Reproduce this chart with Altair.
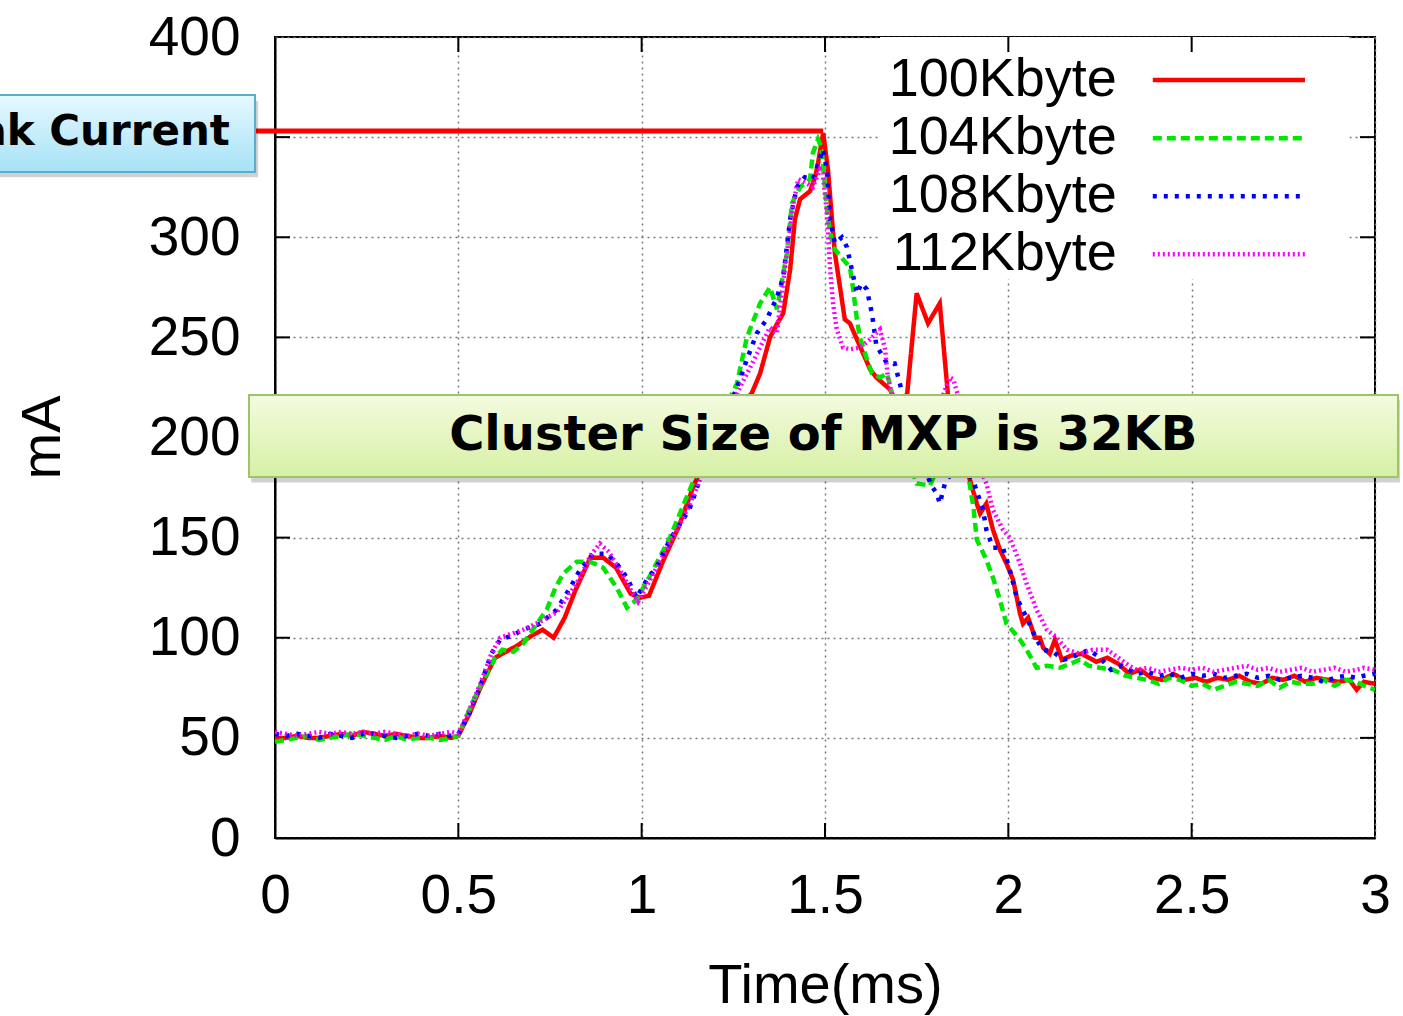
import altair as alt
import pandas as pd

# ---------------- data ----------------
series_names = ["100Kbyte", "104Kbyte", "108Kbyte", "112Kbyte"]
series_colors = ["#ff0000", "#00e600", "#0000ff", "#ff00ff"]
series_dash = [[1, 0], [9, 5], [4, 7], [2, 3]]

red_x = [0.00, 0.03, 0.06, 0.09, 0.12, 0.15, 0.18, 0.21, 0.24, 0.27, 0.30, 0.33, 0.36, 0.39, 0.42, 0.45, 0.48, 0.50,
         0.53, 0.56, 0.60, 0.63, 0.66, 0.70, 0.73, 0.76, 0.79, 0.82, 0.86, 0.895, 0.93, 0.97, 0.995, 1.02, 1.06, 1.10,
         1.14, 1.20, 1.26, 1.30, 1.323, 1.35, 1.37, 1.386, 1.405, 1.418, 1.432, 1.459, 1.473, 1.481, 1.495, 1.508,
         1.519, 1.527, 1.541, 1.554, 1.568, 1.587, 1.604, 1.623, 1.64, 1.677, 1.718, 1.75, 1.781, 1.813, 1.835, 1.865,
         1.895, 1.914, 1.923, 1.94, 1.958, 1.977, 1.995, 2.013, 2.032, 2.04, 2.054, 2.073, 2.086, 2.095, 2.113, 2.127,
         2.146, 2.17, 2.20, 2.24, 2.27, 2.30, 2.33, 2.36, 2.39, 2.42, 2.45, 2.48, 2.51, 2.54, 2.57, 2.60, 2.63, 2.66,
         2.69, 2.72, 2.75, 2.78, 2.81, 2.84, 2.87, 2.90, 2.93, 2.95, 2.97, 3.00]
red_y = [50, 50, 51, 50, 50, 51, 52, 51, 53, 52, 51, 52, 51, 50, 50, 51, 50, 51,
         62, 75, 90, 93, 96, 101, 104, 100, 110, 124, 140, 140, 135, 122, 120, 121, 139, 155,
         175, 200, 215, 222, 232, 250, 257, 262, 284, 309, 319, 323, 330, 337, 352, 334,
         309, 292, 275, 259, 257, 249, 242, 234, 230, 224, 210, 272, 257, 267, 222, 200,
         179, 167, 162, 167, 154, 144, 137, 129, 112, 107, 110, 100, 100, 95, 92, 99,
         89, 91, 92, 88, 90, 87, 82, 84, 80, 79, 82, 79, 80, 78, 80, 79, 81, 78,
         77, 80, 79, 81, 78, 80, 79, 78, 79, 74, 78, 77]

green_x = [0.00, 0.03, 0.06, 0.09, 0.12, 0.15, 0.18, 0.21, 0.24, 0.27, 0.30, 0.33, 0.36, 0.39, 0.42, 0.45, 0.48, 0.50,
           0.53, 0.56, 0.60, 0.62, 0.65, 0.677, 0.714, 0.741, 0.765, 0.786, 0.823, 0.859, 0.895, 0.932, 0.96, 0.986,
           1.02, 1.077, 1.12, 1.18, 1.22, 1.26, 1.287, 1.323, 1.35, 1.369, 1.396, 1.41, 1.432, 1.459, 1.467, 1.481,
           1.49, 1.50, 1.508, 1.522, 1.549, 1.568, 1.576, 1.587, 1.595, 1.609, 1.628, 1.65, 1.669, 1.68, 1.71, 1.75,
           1.786, 1.82, 1.86, 1.89, 1.905, 1.914, 1.94, 1.958, 1.977, 1.995, 2.032, 2.05, 2.077, 2.105, 2.14, 2.17,
           2.195, 2.22, 2.25, 2.285, 2.32, 2.35, 2.377, 2.41, 2.44, 2.468, 2.50, 2.53, 2.56, 2.59, 2.62, 2.65, 2.68,
           2.71, 2.74, 2.77, 2.80, 2.83, 2.86, 2.89, 2.92, 2.95, 2.97, 3.00]
green_y = [48, 49, 50, 51, 49, 50, 51, 52, 51, 50, 49, 51, 49, 50, 50, 49, 50, 51,
           64, 76, 90, 94, 93, 97, 107, 114, 125, 132, 138, 138, 135, 125, 115, 119,
           130, 150, 169, 195, 212, 227, 250, 267, 275, 264, 292, 317, 325, 329, 342, 349,
           345, 325, 309, 295, 289, 285, 275, 259, 250, 242, 232, 230, 232, 224, 200, 177,
           176, 190, 195, 182, 165, 149, 139, 130, 119, 107, 99, 94, 85, 86, 85, 87,
           89, 86, 85, 84, 81, 80, 79, 77, 80, 79, 76, 77, 74, 76, 78, 77, 76,
           79, 75, 78, 77, 77, 79, 76, 79, 78, 76, 74]

blue_x = [0.00, 0.03, 0.06, 0.09, 0.12, 0.15, 0.18, 0.21, 0.24, 0.27, 0.30, 0.33, 0.36, 0.39, 0.42, 0.45, 0.48, 0.50,
          0.53, 0.56, 0.59, 0.614, 0.645, 0.677, 0.723, 0.768, 0.805, 0.832, 0.868, 0.905, 0.932, 0.96, 0.986, 1.014,
          1.04, 1.077, 1.13, 1.19, 1.23, 1.26, 1.287, 1.314, 1.341, 1.369, 1.386, 1.405, 1.423, 1.445, 1.467, 1.486,
          1.494, 1.505, 1.514, 1.527, 1.546, 1.56, 1.573, 1.587, 1.60, 1.614, 1.628, 1.64, 1.669, 1.69, 1.704, 1.75,
          1.79, 1.805, 1.813, 1.827, 1.87, 1.905, 1.931, 1.94, 1.958, 1.985, 2.004, 2.023, 2.05, 2.077, 2.095, 2.122,
          2.15, 2.17, 2.195, 2.22, 2.25, 2.28, 2.31, 2.35, 2.38, 2.41, 2.44, 2.47, 2.50, 2.53, 2.56, 2.59, 2.62, 2.65,
          2.68, 2.71, 2.74, 2.77, 2.80, 2.83, 2.86, 2.89, 2.92, 2.95, 2.97, 3.00]
blue_y = [52, 51, 52, 51, 50, 52, 51, 50, 52, 52, 51, 50, 51, 52, 51, 52, 51, 52,
          62, 76, 92, 99, 101, 104, 107, 114, 125, 134, 142, 142, 137, 130, 120, 129,
          135, 149, 164, 195, 212, 225, 239, 252, 259, 270, 280, 309, 325, 330, 329, 339,
          344, 334, 309, 297, 300, 295, 284, 272, 277, 274, 262, 246, 237, 237, 227, 195,
          176, 172, 167, 177, 190, 178, 164, 154, 145, 145, 134, 120, 110, 99, 94, 93,
          89, 90, 92, 94, 90, 84, 86, 82, 83, 81, 82, 80, 82, 81, 82, 80, 81, 82,
          80, 81, 79, 80, 81, 80, 78, 80, 81, 80, 81, 82]

magenta_x = [0.00, 0.03, 0.06, 0.09, 0.12, 0.15, 0.18, 0.21, 0.24, 0.27, 0.30, 0.33, 0.36, 0.39, 0.42, 0.45, 0.48, 0.50,
             0.53, 0.56, 0.59, 0.614, 0.645, 0.677, 0.723, 0.77, 0.80, 0.832, 0.86, 0.886, 0.91, 0.94, 0.97, 0.99,
             1.02, 1.05, 1.09, 1.13, 1.19, 1.23, 1.268, 1.296, 1.323, 1.35, 1.369, 1.377, 1.396, 1.414, 1.427, 1.45,
             1.467, 1.486, 1.494, 1.505, 1.514, 1.522, 1.532, 1.549, 1.568, 1.595, 1.623, 1.65, 1.664, 1.672, 1.70,
             1.74, 1.78, 1.82, 1.84, 1.85, 1.88, 1.91, 1.94, 1.958, 1.985, 2.004, 2.032, 2.05, 2.077, 2.105, 2.132,
             2.16, 2.195, 2.23, 2.27, 2.30, 2.33, 2.35, 2.38, 2.41, 2.44, 2.47, 2.50, 2.53, 2.56, 2.59, 2.62, 2.65,
             2.68, 2.71, 2.74, 2.77, 2.80, 2.83, 2.86, 2.89, 2.92, 2.95, 2.97, 3.00]
magenta_y = [53, 52, 51, 52, 53, 52, 53, 52, 53, 52, 53, 52, 51, 52, 51, 52, 53, 52,
             64, 77, 92, 100, 102, 104, 108, 113, 121, 130, 141, 147, 143, 134, 124, 118,
             128, 138, 152, 166, 193, 210, 225, 235, 245, 255, 252, 265, 292, 317, 329, 327,
             325, 334, 332, 312, 284, 267, 254, 245, 244, 245, 249, 254, 244, 229, 210,
             200, 205, 220, 230, 229, 210, 190, 177, 164, 154, 150, 137, 127, 114, 104, 100,
             94, 92, 94, 94, 90, 86, 84, 85, 83, 84, 85, 84, 85, 83, 84, 85, 86,
             84, 85, 83, 84, 85, 83, 84, 85, 83, 84, 85, 84]

x_ticks = [0, 0.5, 1, 1.5, 2, 2.5, 3]
y_ticks = [0, 50, 100, 150, 200, 250, 300, 350, 400]

peak_label = "Peak Current"
peak_value = 353
cluster_label = "Cluster Size of MXP is 32KB"

# ---------------- build tables ----------------
rows = []
for name, xs, ys in zip(series_names,
                        [red_x, green_x, blue_x, magenta_x],
                        [red_y, green_y, blue_y, magenta_y]):
    for xv, yv in zip(xs, ys):
        rows.append({"series": name, "x": xv, "y": yv})
df = pd.DataFrame(rows)

FONT = "Liberation Sans"
ANNO_FONT = "DejaVu Sans"

xscale = alt.Scale(domain=[0, 3], nice=False, zero=False)
yscale = alt.Scale(domain=[0, 400], nice=False, zero=False)
xaxis = alt.Axis(values=x_ticks, title="Time(ms)", labelFontSize=55, titleFontSize=56, labelFont=FONT,
                 titleFont=FONT, titleFontWeight="normal", labelColor="black", titleColor="black",
                 ticks=False, labelPadding=31, grid=True, gridDash=[2, 4], gridColor="#777777",
                 gridWidth=1.5, domainColor="black", domainWidth=2, labelExpr="datum.value + ''",
                 titleY=147, titleBaseline="middle", labelFlush=False)
# the 350 label sits underneath the "Peak Current" call-out box
yaxis = alt.Axis(values=y_ticks, title="mA", labelFontSize=55, titleFontSize=56, labelFont=FONT,
                 titleFont=FONT, titleFontWeight="normal", labelColor="black", titleColor="black",
                 ticks=False, labelPadding=35, grid=True, gridDash=[2, 4], gridColor="#777777",
                 gridWidth=1.5, domainColor="black", domainWidth=2, titleX=-233, titleY=400,
                 titleBaseline="middle", titleAlign="center", labelFlush=False,
                 labelExpr="datum.value == 350 ? '' : datum.value + ''")

X = alt.X("x:Q", scale=xscale, axis=xaxis)
Y = alt.Y("y:Q", scale=yscale, axis=yaxis)
color_scale = alt.Scale(domain=series_names, range=series_colors)
dash_scale = alt.Scale(domain=series_names, range=series_dash)

# white legend background (hides grid lines behind key)
legend_bg = alt.Chart(pd.DataFrame({"x": [1.65], "x2": [2.93], "y": [279], "y2": [400]})).mark_rect(
    color="white").encode(x=X, x2="x2:Q", y=Y, y2="y2:Q")

# inward tick marks (gnuplot style)
tick_rows = []
tx = 15 / 366.7
ty = 15 / 2.0025
for v in y_ticks[1:-1]:
    tick_rows.append({"x": 0, "x2": tx, "y": v, "y2": v})
    tick_rows.append({"x": 3 - tx, "x2": 3, "y": v, "y2": v})
for v in x_ticks[1:-1]:
    tick_rows.append({"x": v, "x2": v, "y": 0, "y2": ty})
    tick_rows.append({"x": v, "x2": v, "y": 400 - ty, "y2": 400})
ticks = alt.Chart(pd.DataFrame(tick_rows)).mark_rule(color="black", strokeWidth=2).encode(
    x=X, x2="x2:Q", y=Y, y2="y2:Q")

lines = alt.Chart(df).mark_line(strokeWidth=4.5, strokeCap="butt", strokeJoin="miter").encode(
    x=X, y=Y,
    color=alt.Color("series:N", scale=color_scale, legend=None),
    strokeDash=alt.StrokeDash("series:N", scale=dash_scale, legend=None),
    order=alt.Order("x:Q"))

# manual key
leg_df = pd.DataFrame({"series": series_names, "x": [2.296] * 4, "x2": [2.394] * 4,
                       "x3": [2.809] * 4, "y": [378.5, 349.5, 320.5, 291.5]})
leg_text = alt.Chart(leg_df).mark_text(align="right", baseline="middle", fontSize=54, font=FONT,
                                       color="black").encode(x=X, y=Y, text="series:N")
leg_lines = alt.Chart(leg_df).mark_rule(strokeWidth=4.5, strokeCap="butt").encode(
    x=alt.X("x2:Q", scale=xscale, axis=xaxis), x2="x3:Q", y=Y,
    color=alt.Color("series:N", scale=color_scale, legend=None),
    strokeDash=alt.StrokeDash("series:N", scale=dash_scale, legend=None))

# annotations
peak_line = alt.Chart(pd.DataFrame({"x": [-0.0545], "x2": [1.495], "y": [peak_value]})).mark_rule(
    color="#ff0000", strokeWidth=5).encode(x=X, x2="x2:Q", y=Y)

blue_grad = alt.LinearGradient(gradient="linear", x1=0, y1=0, x2=0, y2=1,
                               stops=[alt.GradientStop(color="#e6f8fe", offset=0),
                                      alt.GradientStop(color="#a6e2f7", offset=1)])
green_grad = alt.LinearGradient(gradient="linear", x1=0, y1=0, x2=0, y2=1,
                                stops=[alt.GradientStop(color="#f3fbdf", offset=0),
                                       alt.GradientStop(color="#d6f0a4", offset=1)])

cl_shadow = alt.Chart(pd.DataFrame({"x": [-0.065], "x2": [3.068], "y": [177.5], "y2": [219]})).mark_rect(
    color="#000000", opacity=0.18).encode(x=X, x2="x2:Q", y=Y, y2="y2:Q")
cl_box = alt.Chart(pd.DataFrame({"x": [-0.0709], "x2": [3.0627], "y": [180.3], "y2": [221.2]})).mark_rect(
    color=green_grad, stroke="#9dc46a", strokeWidth=2).encode(x=X, x2="x2:Q", y=Y, y2="y2:Q")
cl_text = alt.Chart(pd.DataFrame({"x": [1.495], "y": [200.5], "t": [cluster_label]})).mark_text(
    align="center", baseline="middle", fontSize=48, font=ANNO_FONT, fontWeight="bold", color="black").encode(
    x=X, y=Y, text="t:N")

pk_shadow = alt.Chart(pd.DataFrame({"x": [-1.0], "x2": [-0.046], "y": [330], "y2": [368]})).mark_rect(
    color="#000000", opacity=0.18).encode(x=X, x2="x2:Q", y=Y, y2="y2:Q")
pk_box = alt.Chart(pd.DataFrame({"x": [-1.0], "x2": [-0.0545], "y": [332.6], "y2": [371]})).mark_rect(
    color=blue_grad, stroke="#5aaecb", strokeWidth=2).encode(x=X, x2="x2:Q", y=Y, y2="y2:Q")
pk_text = alt.Chart(pd.DataFrame({"x": [-0.123], "y": [352.5], "t": [peak_label]})).mark_text(
    align="right", baseline="middle", fontSize=42, font=ANNO_FONT, fontWeight="bold", color="black").encode(
    x=X, y=Y, text="t:N")

chart = alt.layer(
    legend_bg, ticks, lines, leg_text, leg_lines, peak_line,
    cl_shadow, cl_box, cl_text, pk_shadow, pk_box, pk_text
).properties(
    width=1100, height=801,
    padding={"left": 275, "top": 37, "right": 28, "bottom": 178},
    autosize=alt.AutoSizeParams(type="none"),
    background="white",
).configure_view(stroke="black", strokeWidth=2)

chart.save("out.html", embed_options={"renderer": "svg", "actions": False})
